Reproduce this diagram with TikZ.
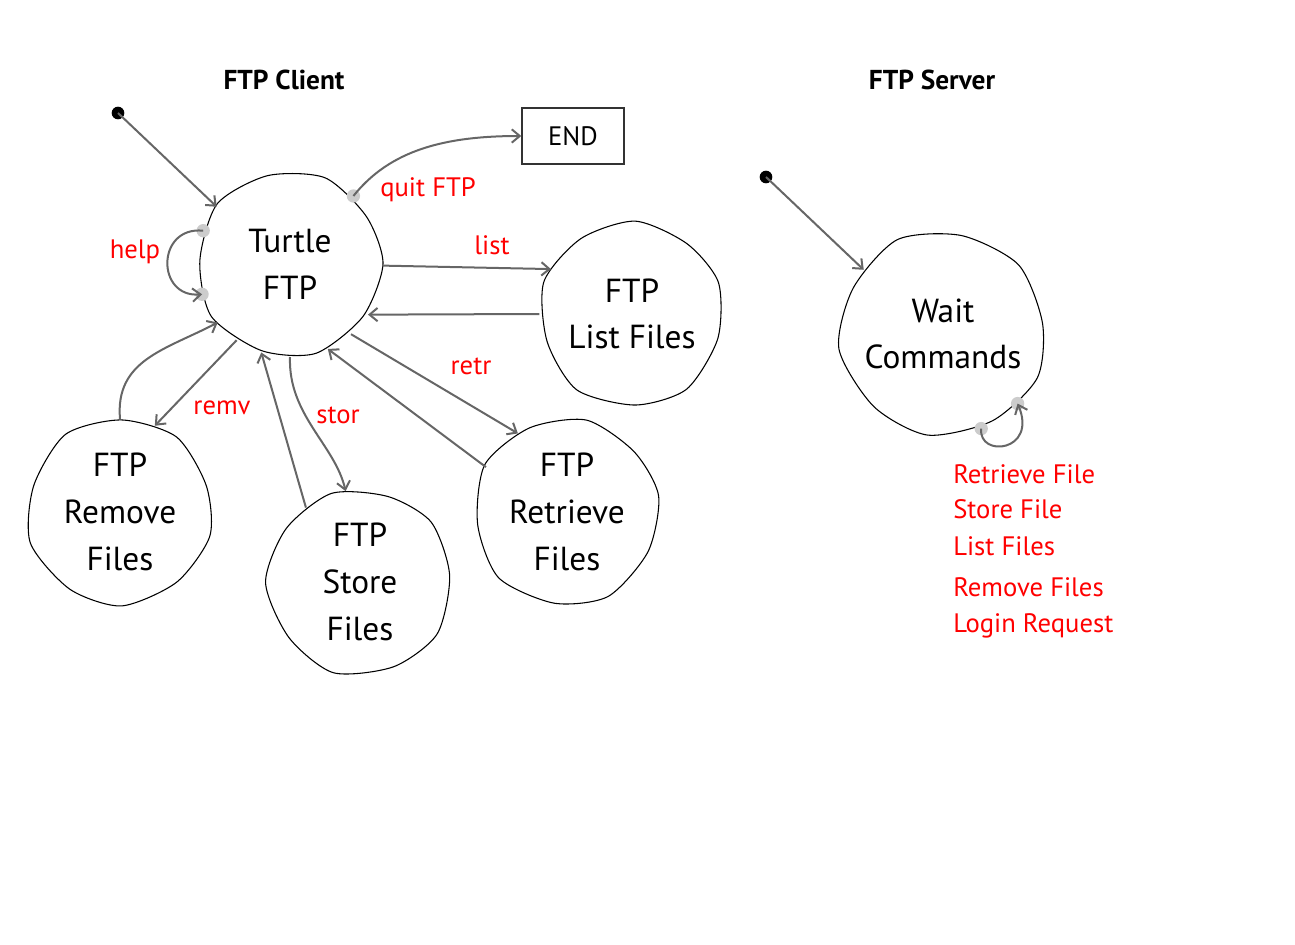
\documentclass[tikz,border=0pt]{standalone}
\usepackage{fontspec}
\setmainfont{PT Sans}
\usetikzlibrary{arrows.meta}
\definecolor{arrowgray}{HTML}{666666}
\definecolor{dotgray}{HTML}{CCCCCC}
\definecolor{boxgray}{HTML}{333333}
\newcommand\drawblob[4]{%
  \draw[blobline, shift={(#1.center)}, rotate=#4, xscale=#2/100, yscale=#3/100]
    plot[smooth cycle, tension=0.45] coordinates {(0:100) (36:97) (74:101) (108:99) (146:102) (182:97) (220:102) (256:99) (292:101) (328:97)};}
\begin{document}
\begin{tikzpicture}[x=0.75pt,y=-0.75pt,
  state/.style={circle, inner sep=0pt, outer sep=0pt, align=center, font=\fontsize{25}{35}\selectfont},
  blobline/.style={draw=black, line width=0.8pt},
  conn/.style={draw=arrowgray, line width=1.5pt, -{Straight Barb[length=6pt,width=10pt]}},
  lbl/.style={text=red, font=\fontsize{20}{22}\selectfont, inner sep=0pt},
  title/.style={font=\bfseries\fontsize{20.5}{24}\selectfont, inner sep=0pt},
  startdot/.style={circle, fill=black, minimum size=9.5pt, inner sep=0pt},
  port/.style={circle, fill=dotgray, minimum size=10pt, inner sep=0pt},
  endbox/.style={draw=boxgray, line width=1pt, minimum width=76.5pt, minimum height=42pt, inner sep=0pt, font=\fontsize{20}{22}\selectfont},
]
\useasboundingbox (0,0) rectangle (1295,945);

% titles
\node[title] (tclient) at (284,80) {FTP Client};
\node[title] (tserver) at (932,80) {FTP Server};

% states
\node[state, minimum size=139.5pt] (turtle) at (290,264) {Turtle\\FTP};
\node[state, minimum size=139pt] (list) at (632,314) {FTP\\List Files};
\node[state, minimum size=139.5pt] (remove) at (120,512) {FTP\\Remove\\Files};
\node[state, minimum size=138pt] (store) at (360,582) {FTP\\Store\\Files};
\node[state, minimum size=139pt] (retr) at (567,512) {FTP\\Retrieve\\Files};
\node[state, minimum size=153pt] (wait) at (943,334) {Wait\\Commands};
\node[endbox] (endbox) at (573,136) {END};

\drawblob{turtle}{93}{92}{0}
\drawblob{list}{92}{92}{20}
\drawblob{remove}{93}{93}{-15}
\drawblob{store}{93}{92}{40}
\drawblob{retr}{93}{93}{10}
\drawblob{wait}{104}{101}{-25}

% start dots
\node[startdot] (s1) at (118,113) {};
\node[startdot] (s2) at (766,177) {};

% ports
\node[port] (pq) at (turtle.47) {};
\node[port] (ph1) at (turtle.159) {};
\node[port] (ph2) at (turtle.199) {};
\node[port] (pw1) at (wait.-68) {};
\node[port] (pw2) at (wait.-43) {};

% connectors
\draw[conn] (s1.center) -- (turtle.142);
\draw[conn] (pq.center) .. controls (390,150) and (445,136) .. (endbox.west);
\draw[conn] (ph1.center) .. controls (156,226) and (156,298) .. (ph2.center);
\draw[conn] (turtle.-1) -- (list.151);
\draw[conn] (list.180) -- (turtle.-33);
\draw[conn] (turtle.-49) -- (retr.122);
\draw[conn] (retr.151) -- (turtle.-66);
\draw[conn] (turtle.-90) .. controls (288,415) and (335,445) .. (store.99);
\draw[conn] (store.126) -- (turtle.-108);
\draw[conn] (turtle.-125) -- (remove.68);
\draw[conn] (remove.90) .. controls (115,360) and (165,350) .. (turtle.-141);
\draw[conn] (s2.center) -- (wait.141);
\draw[conn] (pw1.center) .. controls (978,458) and (1038,452) .. (pw2.center);

% labels
\node[lbl] (lquit) at (428,190) {quit FTP};
\node[lbl] (lhelp) at (135,252) {help};
\node[lbl] (llist) at (492,245) {list};
\node[lbl] (lretr) at (471,366) {retr};
\node[lbl] (lremv) at (222,408) {remv};
\node[lbl] (lstor) at (338,415) {stor};

\node[lbl, anchor=west] (c1) at (953,474) {Retrieve File};
\node[lbl, anchor=west] (c2) at (953,509) {Store File};
\node[lbl, anchor=west] (c3) at (953,546) {List Files};
\node[lbl, anchor=west] (c4) at (953,587) {Remove Files};
\node[lbl, anchor=west] (c5) at (953,626) {Login Request};
\end{tikzpicture}
\end{document}
